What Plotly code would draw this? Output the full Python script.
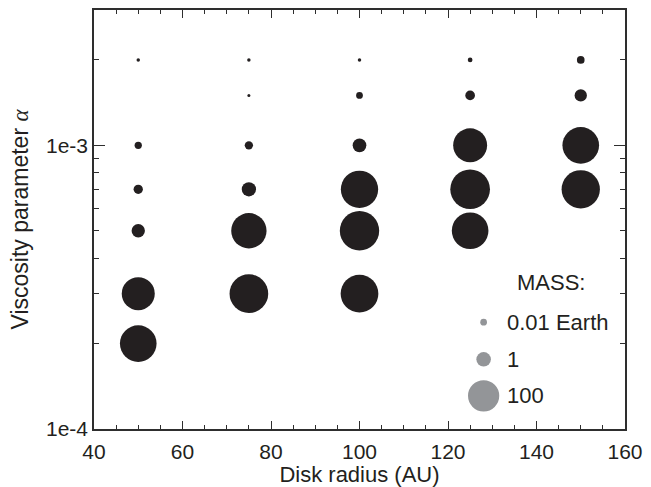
import plotly.graph_objects as go

# ---- data ----
disk_radius = [50, 50, 50, 50, 50, 50,
               75, 75, 75, 75, 75, 75,
               100, 100, 100, 100, 100, 100,
               125, 125, 125, 125, 125,
               150, 150, 150, 150]
alpha = [2e-3, 1e-3, 7e-4, 5e-4, 3e-4, 2e-4,
         2e-3, 1.5e-3, 1e-3, 7e-4, 5e-4, 3e-4,
         2e-3, 1.5e-3, 1e-3, 7e-4, 5e-4, 3e-4,
         2e-3, 1.5e-3, 1e-3, 7e-4, 5e-4,
         2e-3, 1.5e-3, 1e-3, 7e-4]
mass = [2e-4, 0.016, 0.07, 0.6, 140, 260,
        2e-4, 8e-5, 0.035, 0.92, 210, 360,
        2e-4, 0.01, 0.71, 290, 400, 310,
        1.2e-3, 0.09, 165, 420, 260,
        0.022, 0.37, 260, 340]

legend_mass = [0.01, 1, 100]
legend_labels = ["0.01 Earth", "1", "100"]

x_ticks = [40, 60, 80, 100, 120, 140, 160]
y_ticks = [1e-4, 1e-3]
y_ticktext = ["1e-4", "1e-3"]
y_minor = [2e-4, 3e-4, 4e-4, 5e-4, 6e-4, 7e-4, 8e-4, 9e-4, 2e-3]

# ---- size scale: diameter (px) ~ mass^(1/6) ----
SCALE = 14.5
def diam(m):
    return SCALE * m ** (1.0 / 6.0)

DOT = "#231f20"
GRAY = "#939598"
AXC = "#2e2e2e"
FONT = "Liberation Sans, Arial, sans-serif"

fig = go.Figure()
fig.add_trace(go.Scatter(
    x=disk_radius, y=alpha, mode="markers",
    marker=dict(size=[diam(m) for m in mass], color=DOT, line=dict(width=0), opacity=1),
    showlegend=False, hoverinfo="x+y"))

# legend (key) drawn in paper coordinates
L, R, T, B = 94, 21, 8, 58
W, H = 651, 487
pw, ph = W - L - R, H - T - B
def px_x(px):
    return (px - L) / pw
def px_y(py):
    return (H - B - py) / ph

key_y = [321.7, 359.0, 395.7]
for m, lab, yy in zip(legend_mass, legend_labels, key_y):
    d = diam(m)
    fig.add_shape(type="circle", xref="paper", yref="paper",
                  xsizemode="pixel", ysizemode="pixel",
                  xanchor=px_x(487.3), yanchor=px_y(yy),
                  x0=-d / 2, x1=d / 2, y0=-d / 2, y1=d / 2,
                  fillcolor=GRAY, line=dict(width=0))
    fig.add_annotation(x=px_x(509), y=px_y(yy), xref="paper", yref="paper",
                       text=lab, showarrow=False, xanchor="left", yanchor="middle",
                       font=dict(family=FONT, size=22, color="#231f20"))
fig.add_annotation(x=px_x(519), y=px_y(282), xref="paper", yref="paper",
                   text="MASS:", showarrow=False, xanchor="left", yanchor="middle",
                   font=dict(family=FONT, size=22, color="#231f20"))

fig.update_layout(
    width=W, height=H,
    margin=dict(l=L, r=R, t=T, b=B, pad=0),
    paper_bgcolor="white", plot_bgcolor="white",
    font=dict(family=FONT, size=21, color="#231f20"),
    showlegend=False,
    xaxis=dict(
        range=[40, 160], tickvals=x_ticks, ticks="inside", ticklen=8, tickwidth=1.2,
        tickcolor=AXC, showline=True, linecolor=AXC, linewidth=1.5, mirror="ticks",
        showgrid=False, zeroline=False,
        tickfont=dict(size=21), ticklabelstandoff=3,
        minor=dict(dtick=5, tick0=40, ticks="inside", ticklen=4, tickwidth=1.2,
                   tickcolor=AXC, showgrid=False),
        title=dict(text="Disk radius (AU)", font=dict(size=22), standoff=0),
    ),
    yaxis=dict(
        type="log", range=[-4, 0.47712 - 3], tickvals=y_ticks, ticktext=y_ticktext,
        ticks="inside", ticklen=11, tickwidth=1.2, tickcolor=AXC,
        showline=True, linecolor=AXC, linewidth=1.5, mirror="ticks",
        showgrid=False, zeroline=False, tickfont=dict(size=21),
        minor=dict(tickvals=y_minor, ticks="inside", ticklen=5, tickwidth=1.2,
                   tickcolor=AXC, showgrid=False),
        title=dict(text="Viscosity parameter <span style=\"font-family:Liberation Serif\"><i>α</i></span>",
                   font=dict(size=23), standoff=11),
    ),
)

fig.write_html("out.html")
